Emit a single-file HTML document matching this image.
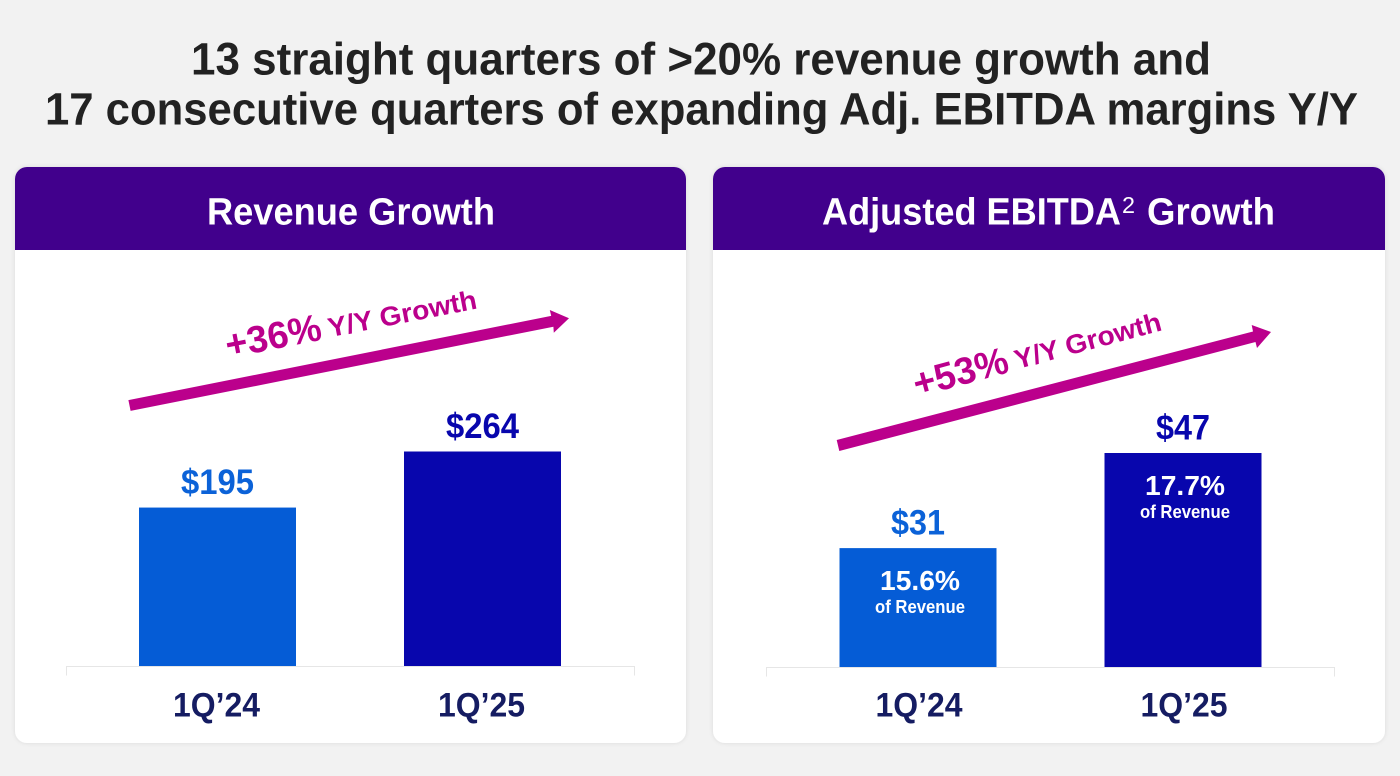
<!DOCTYPE html>
<html lang="en">
<head>
<meta charset="utf-8">
<title>Revenue and Adjusted EBITDA Growth</title>
<style>
html,body{margin:0;padding:0;background:#f2f2f2;}
body{width:1400px;height:776px;overflow:hidden;}
svg{display:block;}
text{font-family:"Liberation Sans",sans-serif;font-weight:700;}
</style>
</head>
<body>
<svg id="stage" width="1400" height="776" viewBox="0 0 1400 776" xmlns="http://www.w3.org/2000/svg">
  <defs>
    <filter id="soft" x="-5%" y="-5%" width="110%" height="110%">
      <feDropShadow dx="0" dy="0" stdDeviation="2" flood-color="#000" flood-opacity="0.10"/>
    </filter>
  </defs>
  <rect width="1400" height="776" fill="#f2f2f2"/>

  <text x="701" y="74.5" text-anchor="middle" font-size="45" fill="#222222" textLength="1020" lengthAdjust="spacingAndGlyphs">13 straight quarters of &gt;20% revenue growth and</text>
  <text x="701.5" y="124.5" text-anchor="middle" font-size="45" fill="#222222" textLength="1313" lengthAdjust="spacingAndGlyphs">17 consecutive quarters of expanding Adj. EBITDA margins Y/Y</text>

  <!-- Left panel -->
  <g>
    <rect x="15" y="167" width="671" height="576" rx="12" fill="#ffffff" filter="url(#soft)"/>
    <path d="M15 250V179a12 12 0 0 1 12-12H674a12 12 0 0 1 12 12V250Z" fill="#41008c"/>
    <text x="351" y="224.500" text-anchor="middle" font-size="38" fill="#ffffff" textLength="288" lengthAdjust="spacingAndGlyphs">Revenue Growth</text>
    <g id="revenue-chart"></g>
    <polygon points="128.400,400.100 551.200,315.900 549.800,310 569,318.300 553.800,332.700 553.400,326.700 130.600,410.900" fill="#bb008c"/>
    <g transform="translate(228,358) rotate(-11)" fill="#bb008c">
      <text x="0" y="0" font-size="38" textLength="97" lengthAdjust="spacingAndGlyphs">+36%</text>
      <text x="104" y="-1" font-size="27" textLength="151" lengthAdjust="spacingAndGlyphs">Y/Y Growth</text>
    </g>
  </g>

  <!-- Right panel -->
  <g>
    <rect x="713" y="167" width="672" height="576" rx="12" fill="#ffffff" filter="url(#soft)"/>
    <path d="M713 250V179a12 12 0 0 1 12-12H1373a12 12 0 0 1 12 12V250Z" fill="#41008c"/>
    <text x="822" y="224.500" font-size="38" fill="#ffffff" textLength="299" lengthAdjust="spacingAndGlyphs">Adjusted EBITDA</text>
    <text x="1122" y="213" font-size="23" fill="#ffffff" textLength="13" lengthAdjust="spacingAndGlyphs" style="font-weight:400">2</text>
    <text x="1147" y="224.500" font-size="38" fill="#ffffff" textLength="128" lengthAdjust="spacingAndGlyphs">Growth</text>
    <g id="ebitda-chart"></g>
    <polygon points="836.700,440 1253,331.500 1251.700,325 1271,332 1257,348 1255.500,342 839.300,451" fill="#bb008c"/>
    <g transform="translate(917,397) rotate(-15)" fill="#bb008c">
      <text x="0" y="0" font-size="38" textLength="97" lengthAdjust="spacingAndGlyphs">+53%</text>
      <text x="104" y="-1" font-size="27" textLength="151" lengthAdjust="spacingAndGlyphs">Y/Y Growth</text>
    </g>
  </g>
</svg>

<script>
var categories = ["1Q\u201924", "1Q\u201925"];
var revenueValues = [195, 264];
var revenueLabels = ["$195", "$264"];
var ebitdaValues = [31, 47];
var ebitdaLabels = ["$31", "$47"];
var ebitdaMargins = ["15.6%", "17.7%"];
var marginCaption = "of Revenue";
var barColors = ["#055cd6", "#0806ad"];
var labelColors = ["#0b62d8", "#0806ad"];

var NS = "http://www.w3.org/2000/svg";

function makeLinearY(domainMin, domainMax, baseline, pixelHeight) {
  return function (v) {
    return baseline - (v - domainMin) / (domainMax - domainMin) * pixelHeight;
  };
}
function makeBandX(firstCenter, step) {
  return function (i) { return firstCenter + step * i; };
}
function addText(parent, str, x, y, size, fill, width) {
  var t = document.createElementNS(NS, "text");
  t.setAttribute("x", x);
  t.setAttribute("y", y);
  t.setAttribute("text-anchor", "middle");
  t.setAttribute("font-size", size);
  t.setAttribute("fill", fill);
  t.setAttribute("textLength", width);
  t.setAttribute("lengthAdjust", "spacingAndGlyphs");
  t.textContent = str;
  parent.appendChild(t);
  return t;
}
function drawAxis(parent, x0, x1, y) {
  var p = document.createElementNS(NS, "path");
  p.setAttribute("d", "M" + x0 + " " + (y + 9) + "V" + y + "H" + x1 + "V" + (y + 9));
  p.setAttribute("fill", "none");
  p.setAttribute("stroke", "#e6e6e6");
  p.setAttribute("stroke-width", "1");
  
  
  parent.appendChild(p);
}
function drawBars(parent, opts) {
  var barW = 157;
  drawAxis(parent, opts.axisX0 + 0.5, opts.axisX1 + 0.5, opts.baseline + 0.5);
  opts.values.forEach(function (v, i) {
    var cx = opts.x(i);
    var top = opts.y(v);
    var r = document.createElementNS(NS, "rect");
    r.setAttribute("x", cx - barW / 2);
    r.setAttribute("y", top);
    r.setAttribute("width", barW);
    r.setAttribute("height", opts.baseline - top);
    r.setAttribute("fill", barColors[i]);
    
    
    parent.appendChild(r);

    var lab = addText(parent, opts.labels[i], cx, top - 13.5, 35, labelColors[i], opts.labelWidth);
    
    

    var cat = addText(parent, categories[i], cx + opts.catShift, 716.5, 34, "#151c62", 87);
    
    

    if (opts.margins) {
      var m = addText(parent, opts.margins[i], cx + 2, top + 42, 28, "#ffffff", 80);
      
      
      var c = addText(parent, marginCaption, cx + 2, top + 65, 18, "#ffffff", 90);
      
      
    }
  });
}

drawBars(document.getElementById("revenue-chart"), {
  key: "revenue",
  values: revenueValues,
  labels: revenueLabels,
  labelWidth: 73,
  y: makeLinearY(0, 264, 666, 214.5),
  x: makeBandX(217.5, 265),
  baseline: 666,
  axisX0: 66,
  axisX1: 634,
  catShift: -1
});

drawBars(document.getElementById("ebitda-chart"), {
  key: "ebitda",
  values: ebitdaValues,
  labels: ebitdaLabels,
  labelWidth: 54,
  margins: ebitdaMargins,
  y: makeLinearY(11, 47, 667, 214),
  x: makeBandX(918, 265),
  baseline: 667,
  axisX0: 766,
  axisX1: 1334,
  catShift: 1
});
</script>
</body>
</html>
